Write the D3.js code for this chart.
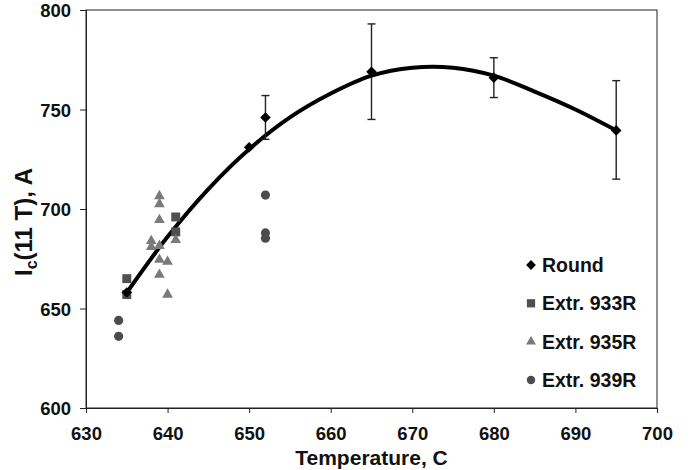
<!DOCTYPE html>
<html>
<head>
<meta charset="utf-8">
<script src="https://cdn.jsdelivr.net/npm/d3@7"></script>
<style>
  body { margin: 0; background: #fff; }
  svg text { font-family: "Liberation Sans", Arial, sans-serif; font-weight: bold; fill: #111; }
</style>
</head>
<body>
<div id="chart"></div>
<script>
const WIDTH = 693, HEIGHT = 470;
const margin = { top: 10, right: 36, bottom: 62, left: 86 };

// Round (mean with error bars)
const roundT   = [635, 650, 652, 665, 680, 695];
const roundI   = [658, 731, 746, 769, 766, 739.5];
const roundLo  = [null, null, 735, 745, 756, 715];
const roundHi  = [null, null, 757, 793, 776, 764.5];

// Extruded samples
const e933T = [635, 635, 641, 641];
const e933I = [665, 657, 696, 688.5];
const e935T = [638, 638, 639, 639, 639, 639, 639, 639, 640, 640, 641];
const e935I = [684, 681, 706.5, 702.5, 694.5, 681.5, 674.5, 667, 673.5, 657, 684.5];
const e939T = [634, 634, 652, 652, 652];
const e939I = [644, 636, 707, 688, 685.3];

// trend line
const fitT = [635, 640, 645, 650, 655, 660, 665, 670, 675, 680, 685, 690, 695];
const fitI = [658, 686, 710, 730, 746, 758, 767, 771, 771, 767, 759, 750, 739.5];

const xTicks = [630, 640, 650, 660, 670, 680, 690, 700];
const yTicks = [600, 650, 700, 750, 800];

const svg = d3.select("#chart").append("svg")
  .attr("width", WIDTH).attr("height", HEIGHT);

const x = d3.scaleLinear().domain([630, 700]).range([margin.left, WIDTH - margin.right]);
const y = d3.scaleLinear().domain([600, 800]).range([HEIGHT - margin.bottom, margin.top]);

// frame
svg.append("rect")
  .attr("x", x(630)).attr("y", y(800))
  .attr("width", x(700) - x(630)).attr("height", y(600) - y(800))
  .attr("fill", "none").attr("stroke", "#222").attr("stroke-width", 1);

const xAxis = svg.append("g")
  .attr("transform", `translate(0,${y(600)})`)
  .call(d3.axisBottom(x).tickValues(xTicks).tickSize(5).tickPadding(14).tickFormat(d3.format("d")));
const yAxis = svg.append("g")
  .attr("transform", `translate(${x(630)},0)`)
  .call(d3.axisLeft(y).tickValues(yTicks).tickSize(6).tickPadding(9).tickFormat(d3.format("d")));

[xAxis, yAxis].forEach(g => {
  g.select(".domain").attr("stroke", "#222");
  g.selectAll(".tick line").attr("stroke", "#222");
  g.selectAll(".tick text").attr("font-size", 18.5).attr("fill", "#111")
    .attr("font-family", "'Liberation Sans', Arial, sans-serif").attr("font-weight", "bold");
});
yAxis.selectAll(".tick text").attr("dy", "0.36em");

// axis titles
svg.append("text")
  .attr("x", (x(630) + x(700)) / 2).attr("y", 465)
  .attr("text-anchor", "middle").attr("font-size", 21)
  .text("Temperature, C");

const yt = svg.append("text")
  .attr("transform", "translate(32,222) rotate(-90)")
  .attr("text-anchor", "middle").attr("font-size", 24);
yt.append("tspan").text("I");
yt.append("tspan").attr("font-size", 16).attr("dy", 5).text("c");
yt.append("tspan").attr("dy", -5).text("(11 T), A");

// trend line
svg.append("path")
  .datum(fitT.map((t, i) => [t, fitI[i]]))
  .attr("fill", "none").attr("stroke", "#000").attr("stroke-width", 4)
  .attr("stroke-linecap", "round")
  .attr("d", d3.line().x(d => x(d[0])).y(d => y(d[1])).curve(d3.curveCatmullRom));

// error bars
const eb = svg.append("g").attr("stroke", "#222").attr("stroke-width", 1.4);
roundT.forEach((t, i) => {
  if (roundLo[i] == null) return;
  const cx = x(t);
  eb.append("line").attr("x1", cx).attr("x2", cx).attr("y1", y(roundLo[i])).attr("y2", y(roundHi[i]));
  eb.append("line").attr("x1", cx - 4).attr("x2", cx + 4).attr("y1", y(roundLo[i])).attr("y2", y(roundLo[i]));
  eb.append("line").attr("x1", cx - 4).attr("x2", cx + 4).attr("y1", y(roundHi[i])).attr("y2", y(roundHi[i]));
});

const series = [
  { name: "Extr. 933R", T: e933T, I: e933I, type: d3.symbolSquare, size: 80, color: "#505050", rot: 0 },
  { name: "Extr. 935R", T: e935T, I: e935I, type: d3.symbolTriangle, size: 50, color: "#7a7a7a", rot: 0 },
  { name: "Extr. 939R", T: e939T, I: e939I, type: d3.symbolCircle, size: 66, color: "#4c4c4c", rot: 0 },
  { name: "Round", T: roundT, I: roundI, type: d3.symbolSquare, size: 56, color: "#000", rot: 45 },
];

series.forEach(s => {
  svg.append("g").selectAll("path")
    .data(s.T.map((t, i) => [t, s.I[i]]))
    .join("path")
    .attr("d", d3.symbol(s.type, s.size))
    .attr("fill", s.color)
    .attr("transform", d => `translate(${x(d[0])},${y(d[1])}) rotate(${s.rot})`);
});

// legend
const legendOrder = ["Round", "Extr. 933R", "Extr. 935R", "Extr. 939R"];
const lg = svg.append("g");
legendOrder.forEach((name, i) => {
  const s = series.find(d => d.name === name);
  const ly = 265 + i * 38.3;
  lg.append("path")
    .attr("d", d3.symbol(s.type, s.size * 0.85))
    .attr("fill", s.color)
    .attr("transform", `translate(531,${ly}) rotate(${s.rot})`);
  lg.append("text").attr("x", 542).attr("y", ly).attr("dy", "0.36em")
    .attr("font-size", 19.5).text(name);
});
</script>
</body>
</html>
